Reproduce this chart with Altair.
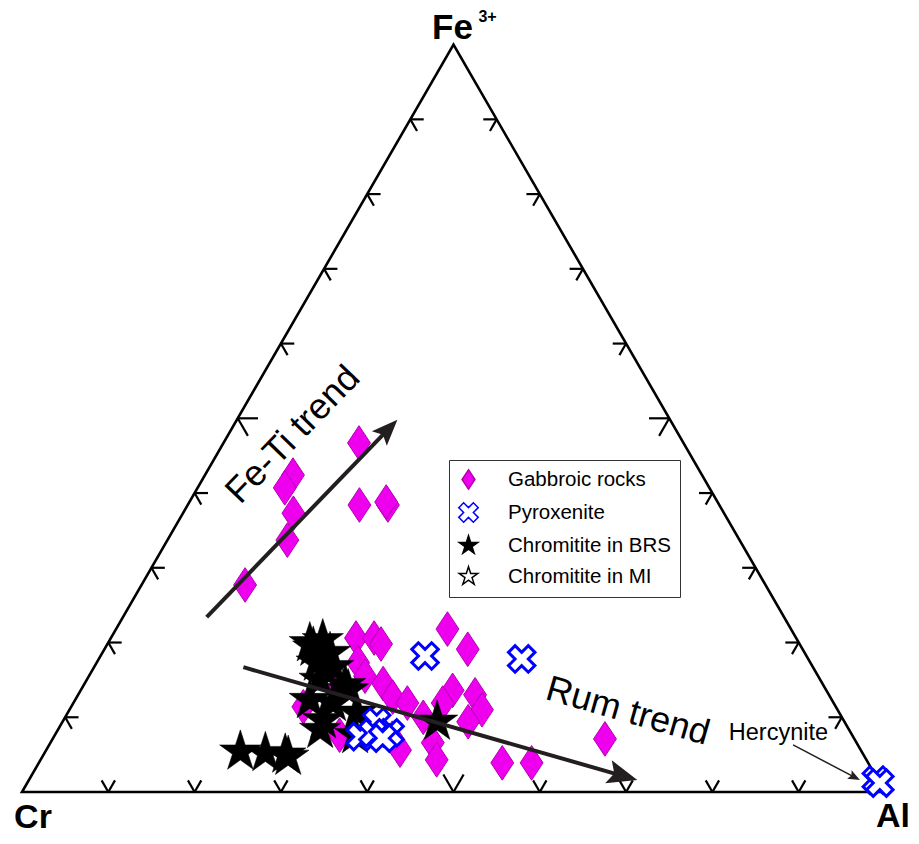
import altair as alt
import numpy as np
import pandas as pd

# ---------------- data (percent of Cr - Al - Fe3+; Cr is the remainder) ----------------
groups = ["Gabbroic rocks", "Pyroxenite", "Chromitite in BRS", "Chromitite in MI"]

gab_al = [15.7, 10.2, 10.1, 12.8, 13.9, 12.0, 19.9, 23.2, 22.8,
          28.4, 30.5, 31.7, 38.4, 42.1, 30.3, 32.0, 34.6, 36.6, 38.7,
          26.9, 33.0, 39.3, 41.0, 41.5, 44.3, 43.1, 46.0, 47.8, 47.0,
          42.8, 45.9, 53.7, 57.1, 64.0, 29.7]
gab_fe = [46.7, 42.4, 40.7, 37.3, 33.7, 27.7, 38.4, 38.4, 38.8,
          20.6, 20.6, 19.8, 21.8, 19.1, 17.3, 15.5, 14.5, 12.7, 11.9,
          11.4, 7.6, 7.2, 5.6, 10.0, 6.6, 13.6, 13.0, 11.0, 9.4,
          11.9, 4.3, 3.9, 3.9, 7.1, 13.6]

pyx_al = [37.6, 49.0, 35.5, 36.4, 38.7, 36.7, 38.2, 98.2, 98.8]
pyx_fe = [18.2, 17.8, 7.4, 9.4, 7.9, 7.9, 7.2, 1.6, 1.2]

brs_al = [23.4, 24.7, 26.4, 25.5, 27.7, 27.0, 31.0, 27.2, 30.1, 30.1,
          33.5, 30.4, 43.4, 22.6, 25.6, 28.0, 28.5, 24.1, 34.8, 30.3]
brs_fe = [19.9, 20.3, 18.6, 17.3, 16.7, 15.0, 13.6, 12.3, 11.9, 9.6,
          10.6, 8.3, 9.4, 5.4, 5.2, 5.0, 4.7, 19.3, 7.6, 14.3]

mi_al = []
mi_fe = []

# trend arrows (start -> tip), percent Al / Fe3+
arrow_names = ["Fe-Ti", "Rum", "Hercynite"]
arrow_al0 = [9.7, 17.3, 86.2]
arrow_fe0 = [23.4, 16.7, 6.3]
arrow_al1 = [18.6, 70.5, 96.3]
arrow_fe1 = [49.8, 1.6, 1.6]

# annotation labels
ann_text = ["Fe-Ti trend", "Rum trend", "Hercynite"]
ann_al = [7.5, 64.8, 83.7]
ann_fe = [47.8, 10.8, 7.9]

# apex labels
vert_names = ["Cr", "Al", "Fe"]
vert_al = [0, 100, 0]
vert_fe = [0, 0, 100]

tick_vals = [10, 20, 30, 40, 50, 60, 70, 80, 90]

# ---------------- geometry helpers ----------------
H = np.sqrt(3) / 2


def to_xy(al, fe):
    al = np.asarray(al, float) / 100.0
    fe = np.asarray(fe, float) / 100.0
    return al + fe / 2.0, fe * H


W, HT = 903, 828
PX = 863.0
xs = alt.Scale(domain=[-14 / PX, (W - 14) / PX], nice=False, zero=False)
ys = alt.Scale(domain=[-(HT - 784) / PX, 784 / PX], nice=False, zero=False)


def X(f="x"):
    return alt.X(f"{f}:Q", scale=xs, axis=None)


def Y(f="y"):
    return alt.Y(f"{f}:Q", scale=ys, axis=None)


# marker styling per group (applied through the data table, not the value arrays)
size_map = {groups[0]: 1200, groups[1]: 700, groups[2]: 1900, groups[3]: 1900}
sw_map = {groups[0]: 1, groups[1]: 3, groups[2]: 0.5, groups[3]: 1.2}

rows = []
for g, al, fe, z in [(groups[0], gab_al, gab_fe, 0), (groups[2], brs_al, brs_fe, 1),
                     (groups[1], pyx_al, pyx_fe, 2), (groups[3], mi_al, mi_fe, 3)]:
    for i, (a, f) in enumerate(zip(al, fe)):
        rows.append({"group": g, "Al": a, "Fe": f, "Cr": 100 - a - f, "z": z * 1000 + i,
                     "sz": size_map[g], "sw": sw_map[g]})
pts = pd.DataFrame(rows)
pts["x"], pts["y"] = to_xy(pts["Al"], pts["Fe"])

# triangle outline
vx, vy = to_xy(vert_al, vert_fe)
tri = pd.DataFrame({"x": [vx[0], vx[1], vx[2], vx[0], vx[1]],
                    "y": [vy[0], vy[1], vy[2], vy[0], vy[1]], "o": range(5)})

# ticks
c60, s60 = 0.5, H
tk = []
for t in tick_vals:
    L = 0.0235 if t == 50 else 0.0155
    bx, by = to_xy(t, 0)
    for dx, dy in [(-c60, s60), (c60, s60)]:
        tk.append({"x": bx, "y": by, "x2": bx + L * dx, "y2": by + L * dy})
    lx, ly = to_xy(0, t)
    for dx, dy in [(1, 0), (c60, -s60)]:
        tk.append({"x": lx, "y": ly, "x2": lx + L * dx, "y2": ly + L * dy})
    rx, ry = to_xy(100 - t, t)
    for dx, dy in [(-1, 0), (-c60, -s60)]:
        tk.append({"x": rx, "y": ry, "x2": rx + L * dx, "y2": ry + L * dy})
ticks = pd.DataFrame(tk)

# arrows
ar = pd.DataFrame({"name": arrow_names})
ar["x0"], ar["y0"] = to_xy(arrow_al0, arrow_fe0)
ar["x1"], ar["y1"] = to_xy(arrow_al1, arrow_fe1)
shorten = np.array([0.055, 0.044, 0.09])
ar["xe"] = ar["x1"] - (ar["x1"] - ar["x0"]) * shorten
ar["ye"] = ar["y1"] - (ar["y1"] - ar["y0"]) * shorten
ar["ang"] = np.degrees(np.arctan2(ar["x1"] - ar["x0"], ar["y1"] - ar["y0"])) % 360
ar["hs"] = [676, 900, 144]
ar["sw"] = [4, 4, 1.5]

ann = pd.DataFrame({"t": ann_text})
ann["x"], ann["y"] = to_xy(ann_al, ann_fe)

vt = pd.DataFrame({"t": vert_names})
vt["x"], vt["y"] = to_xy(vert_al, vert_fe)

# ---------------- symbols ----------------
DIAMOND = "M0,-1L0.66,0L0,1L-0.66,0Z"
XSHAPE = ("M1,-0.5L0.5,0L1,0.5L0.5,1L0,0.5L-0.5,1L-1,0.5L-0.5,0"
          "L-1,-0.5L-0.5,-1L0,-0.5L0.5,-1Z")
STAR = ("M0,-1L0.2245,-0.309L0.951,-0.309L0.363,0.118L0.588,0.809L0,0.382"
        "L-0.588,0.809L-0.363,0.118L-0.951,-0.309L-0.2245,-0.309Z")
HEAD = "M0,0L0.8,2L0,1.6L-0.8,2Z"

FONT = "Liberation Sans"

leg = alt.Legend(title=None, orient="none", legendX=441, legendY=452)

# ---------------- layers ----------------
tri_layer = alt.Chart(tri).mark_line(color="black", strokeWidth=2.6, strokeJoin="miter").encode(
    x=X(), y=Y(), order="o:Q")

tick_layer = alt.Chart(ticks).mark_rule(color="black", strokeWidth=2.2).encode(
    x=X(), y=Y(), x2="x2:Q", y2="y2:Q")

point_layer = alt.Chart(pts).mark_point(opacity=1, filled=True).encode(
    x=X(), y=Y(),
    shape=alt.Shape("group:N", scale=alt.Scale(domain=groups, range=[DIAMOND, XSHAPE, STAR, STAR]), legend=leg),
    fill=alt.Fill("group:N", scale=alt.Scale(domain=groups, range=["#EE00EE", "#FFFFFF", "#000000", "#FFFFFF"]),
                  legend=leg),
    stroke=alt.Stroke("group:N", scale=alt.Scale(domain=groups, range=["#B400B4", "#0000FF", "#000000", "#000000"]),
                      legend=leg),
    size=alt.Size("sz:Q", scale=None),
    strokeWidth=alt.StrokeWidth("sw:Q", scale=None),
    order=alt.Order("z:Q"),
)

arrow_lines = alt.Chart(ar).mark_rule(color="#231F20").encode(
    x=X("x0"), y=Y("y0"), x2="xe:Q", y2="ye:Q", strokeWidth=alt.StrokeWidth("sw:Q", scale=None))

arrow_heads = alt.Chart(ar).mark_point(shape=HEAD, filled=True, fill="#231F20", opacity=1, strokeWidth=0).encode(
    x=X("x1"), y=Y("y1"), size=alt.Size("hs:Q", scale=None), angle=alt.Angle("ang:Q", scale=None))


def ann_layer(txt, angle, size):
    return alt.Chart(ann[ann["t"] == txt]).mark_text(
        font=FONT, fontSize=size, angle=angle, color="black", align="center", baseline="middle").encode(
        x=X(), y=Y(), text="t:N")


fe_ti = ann_layer("Fe-Ti trend", 314, 36)
rum = ann_layer("Rum trend", 16, 36)
herc = ann_layer("Hercynite", 0, 23.5)


def vert_layer(name, dx, dy, text=None, size=35):
    d = vt[vt["t"] == name].copy()
    if text is not None:
        d["t"] = text
    return alt.Chart(d).mark_text(
        font=FONT, fontSize=size, fontWeight="bold", color="black", align="center", baseline="middle",
        dx=dx, dy=dy).encode(x=X(), y=Y(), text="t:N")


cr_lab = vert_layer("Cr", 11, 26, size=34)
al_lab = vert_layer("Al", 8, 25, size=34)
fe_lab = vert_layer("Fe", -1, -17)
fe_sup = vert_layer("Fe", 34, -28, text="3+", size=16)

chart = alt.layer(
    tri_layer, tick_layer, point_layer, arrow_lines, arrow_heads,
    fe_ti, rum, herc, cr_lab, al_lab, fe_lab, fe_sup,
).properties(
    width=W, height=HT, padding=0, autosize=alt.AutoSizeParams(type="none"), background="white"
).configure_view(stroke=None).configure_legend(
    padding=9, rowPadding=6,
    symbolSize=380, symbolStrokeWidth=1.5, labelFont=FONT, labelFontSize=20.5, labelOffset=29,
    labelLimit=300, strokeColor="#333333", fillColor="white", labelColor="black",
)

chart.save("out.html", embed_options={"renderer": "svg", "actions": False})
